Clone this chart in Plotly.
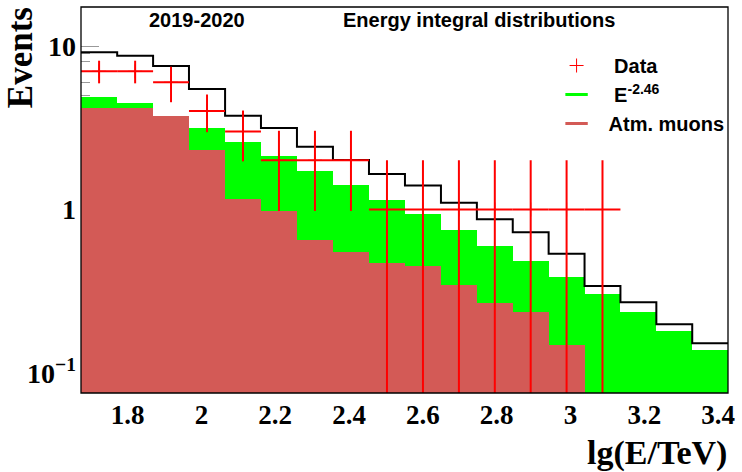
import plotly.graph_objects as go

# ---------------- data ----------------
bin_edges = [1.6739, 1.7719, 1.8692, 1.9664, 2.0642, 2.1614, 2.2589, 2.3564, 2.4540,
             2.5515, 2.6490, 2.7463, 2.8435, 2.9407, 3.0380, 3.1352, 3.2325, 3.3297, 3.4266]

# black outline histogram
total_line = [9.15, 8.72, 7.55, 5.46, 3.75, 3.15, 2.42, 2.01, 1.65,
              1.40, 1.10, 0.871, 0.725, 0.537, 0.340, 0.271, 0.199, 0.152]
# green stacked histogram (atm. muons + E^-2.46), top of green area
stack_top = [4.86, 4.46, 3.75, 3.14, 2.58, 2.12, 1.73, 1.41, 1.14,
             0.935, 0.749, 0.601, 0.482, 0.385, 0.304, 0.237, 0.181, 0.138]
# atmospheric muons
atm_muons = [4.19, 4.19, 3.75, 2.31, 1.154, 0.983, 0.651, 0.552, 0.469,
             0.453, 0.345, 0.267, 0.235, 0.149, 0, 0, 0, 0]

# data points (first 15 bins)
data_y = [7, 7, 6, 4, 3, 2, 2, 2, 1, 1, 1, 1, 1, 1, 1]
data_err_up = [1.13, 1.13, 1.47, 1.05, 1.03, 1.03, 1.03, 1.03, 1, 1, 1, 1, 1, 1, 1]
data_err_dn = [1.09, 1.09, 1.47, 1.03, 1.03, 1.02, 1.02, 1.02, 1, 1, 1, 1, 1, 1, 1]

y_tickvals = [0.1, 1, 10]
y_ticktext = ["10<sup>\u22121</sup>", "1", "10"]
x_tickvals = [1.8, 2.0, 2.2, 2.4, 2.6, 2.8, 3.0, 3.2, 3.4]
x_ticktext = ["1.8", "2", "2.2", "2.4", "2.6", "2.8", "3", "3.2", "3.4"]
y_minor = [0.2, 0.3, 0.4, 0.5, 0.6, 0.7, 0.8, 0.9, 2, 3, 4, 5, 6, 7, 8, 9]

# ---------------- derived ----------------
centers = [(a + b) / 2 for a, b in zip(bin_edges[:-1], bin_edges[1:])]
widths = [b - a for a, b in zip(bin_edges[:-1], bin_edges[1:])]
n_data = len(data_y)
data_x = centers[:n_data]
data_half = [w / 2 for w in widths[:n_data]]

GREEN = "#00ff00"
MUON = "#d35a56"
RED = "#ff0000"

fig = go.Figure()

fig.add_trace(go.Bar(x=centers, y=stack_top, width=widths, marker=dict(color=GREEN, line=dict(width=0)),
                     showlegend=False, hoverinfo="skip"))
fig.add_trace(go.Bar(x=centers, y=[v if v > 0 else None for v in atm_muons], width=widths,
                     marker=dict(color=MUON, line=dict(width=0)), showlegend=False, hoverinfo="skip"))

fig.add_trace(go.Scatter(x=bin_edges, y=total_line + [total_line[-1]], mode="lines",
                         line=dict(color="black", width=2, shape="hv"), showlegend=False))

fig.add_trace(go.Scatter(
    x=data_x, y=data_y, mode="markers",
    marker=dict(symbol="cross-thin", size=10, color=RED, line=dict(color=RED, width=1)),
    error_x=dict(type="data", array=data_half, color=RED, thickness=2, width=0),
    error_y=dict(type="data", symmetric=False, array=data_err_up, arrayminus=data_err_dn,
                 color=RED, thickness=2, width=0),
    name="\u00a0Data", legendgroup="a", showlegend=True))

# legend entries
fig.add_trace(go.Scatter(x=[None], y=[None], mode="markers",
                         marker=dict(symbol="line-ew", size=18, color=GREEN, line=dict(color=GREEN, width=3)),
                         name="\u00a0E<sup>-2.46</sup>", legendgroup="b"))
fig.add_trace(go.Scatter(x=[None], y=[None], mode="markers",
                         marker=dict(symbol="line-ew", size=18, color=MUON, line=dict(color=MUON, width=3)),
                         name="Atm. muons", legendgroup="c"))

W, H = 742, 472
ml, mr, mt, mb = 81, 12, 7, 79
pw, ph = W - ml - mr, H - mt - mb


def px(xp):
    return (xp - ml) / pw


def py(yp):
    return (H - mb - yp) / ph


sans = dict(family="Liberation Sans, Arial, sans-serif", size=20, color="black", weight="bold")
serif = "Liberation Serif, Times New Roman, serif"

fig.update_layout(
    width=W, height=H,
    margin=dict(l=ml, r=mr, t=mt, b=mb),
    paper_bgcolor="white", plot_bgcolor="white",
    barmode="overlay", bargap=0,
    showlegend=True,
    legend=dict(x=px(546), y=py(46), xanchor="left", yanchor="top",
                bgcolor="rgba(0,0,0,0)", borderwidth=0,
                font=sans, itemwidth=54, tracegroupgap=0, traceorder="grouped"),
    xaxis=dict(range=[bin_edges[0], bin_edges[-1]], tickvals=x_tickvals, ticktext=x_ticktext,
               showgrid=False, zeroline=False, showline=False, ticks="", layer="below traces",
               tickfont=dict(family=serif, size=27, color="black", weight="bold"),
               ticklabelstandoff=3),
    yaxis=dict(type="log", range=[-1.1223, 1.2385], tickvals=y_tickvals, ticktext=y_ticktext,
               showgrid=False, zeroline=False, showline=False,
               ticks="inside", ticklen=18, tickcolor="#999999", tickwidth=1,
               minor=dict(tickvals=y_minor, ticks="inside", ticklen=9, tickcolor="#999999", tickwidth=1),
               layer="below traces",
               tickfont=dict(family=serif, size=28, color="black", weight="bold"),
               ticklabelstandoff=4),
    shapes=[dict(type="rect", xref="paper", yref="paper", x0=0, x1=1, y0=0, y1=1,
                 line=dict(color="black", width=1.3), layer="above")],
    annotations=[
        dict(text="2019-2020", xref="paper", yref="paper", x=px(197.5), y=py(20),
             xanchor="center", yanchor="middle", showarrow=False, font=sans),
        dict(text="Energy integral distributions", xref="paper", yref="paper", x=px(341.7), y=py(20),
             xanchor="left", yanchor="middle", showarrow=False, font=sans),
        dict(text="Events", xref="paper", yref="paper", x=px(20), y=py(58), textangle=-90,
             xanchor="center", yanchor="middle", showarrow=False,
             font=dict(family=serif, size=35, color="black", weight="bold")),
        dict(text="lg(E/TeV)", xref="paper", yref="paper", x=px(731), y=py(453),
             xanchor="right", yanchor="middle", showarrow=False,
             font=dict(family=serif, size=34, color="black", weight="bold")),
    ],
)

fig.write_html("out.html")
